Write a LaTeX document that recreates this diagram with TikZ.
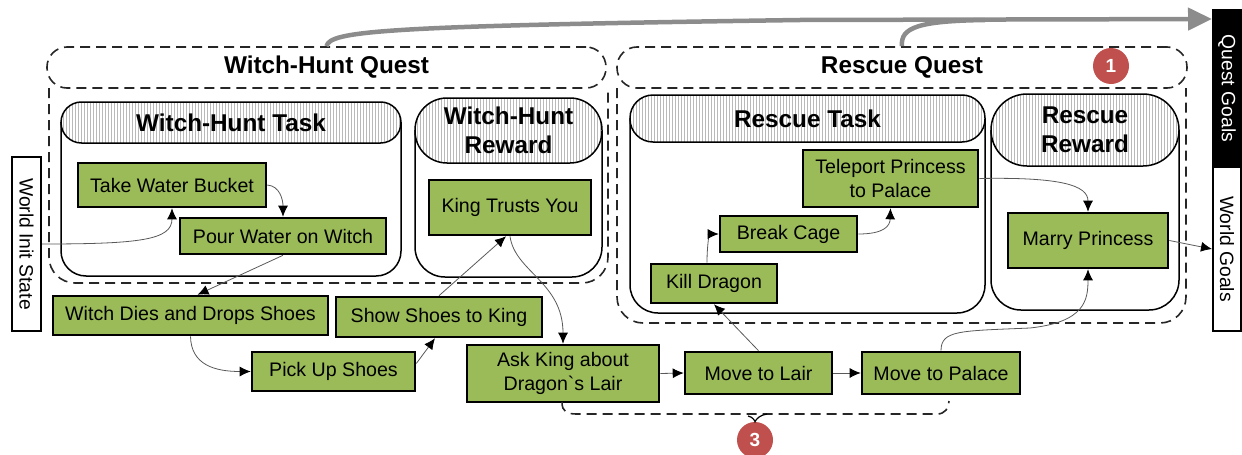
\documentclass[tikz,border=0pt]{standalone}
\usepackage{fontspec}
\setmainfont{Liberation Sans}
\newfontfamily\plainsans{Liberation Sans}
\usepackage{graphicx}
\usetikzlibrary{arrows.meta,patterns,calc}
\definecolor{nodegreen}{HTML}{9BBB59}
\definecolor{markred}{HTML}{C0504D}
\definecolor{flowgray}{HTML}{8C8C8C}
\begin{document}
\begin{tikzpicture}[x=1pt,y=-1pt,
  gbox/.style={draw=black, line width=2.6pt, fill=nodegreen, font=\fontsize{19.6}{23.5}\selectfont, align=center, inner sep=0pt},
  qdash/.style={draw=black!85, line width=1.6pt, dash pattern=on 10pt off 6pt},
  qhead/.style={qdash, rounded corners=20pt, inner sep=0pt, font=\fontsize{24.3}{28}\selectfont\bfseries},
  cbody/.style={draw=black, line width=1.5pt},
  chead/.style={draw=black, line width=1.5pt, preaction={fill=white}, pattern=vertical lines, pattern color=gray!55, inner sep=0pt, align=center, font=\fontsize{24.3}{29}\selectfont\bfseries},
  link/.style={draw=black!65, line width=0.8pt, -{Latex[length=11pt,width=10pt,color=black]}},
  bigflow/.style={draw=flowgray, line width=4.5pt},
  sidebox/.style={draw=black, line width=2pt, inner sep=0pt, font=\fontsize{19.3}{23}\selectfont},
  marker/.style={circle, fill=markred, text=white, minimum size=36pt, inner sep=0pt, font=\fontsize{19}{23}\selectfont\bfseries}
]
\useasboundingbox (0,0) rectangle (1242,455);

% quest groups
\draw[qdash, rounded corners=26pt] (49,88) -- (49,283) -- (608,283) -- (608,88);
\node[qhead, minimum width=559pt, minimum height=41pt] (whq) at (326.5,67.5) {Witch-Hunt Quest};
\draw[qdash, rounded corners=26pt] (617,88) -- (617,323) -- (1186,323) -- (1186,88);
\node[qhead, minimum width=570pt, minimum height=41pt] (rq) at (902,67.5) {Rescue Quest};

% containers
\draw[cbody, rounded corners=25pt] (61,122) -- (61,276) -- (401,276) -- (401,122);
\node[chead, rounded corners=20.5pt, minimum width=340pt, minimum height=41pt] (wht) at (231,122.5) {Witch-Hunt Task};
\draw[cbody, rounded corners=30pt] (415,130) -- (415,277) -- (602,277) -- (602,130);
\node[chead, rounded corners=32pt, minimum width=187pt, minimum height=65pt] (whr) at (508.5,130.5) {Witch-Hunt\\Reward};
\draw[cbody, rounded corners=28pt] (630,118) -- (630,313) -- (985,313) -- (985,118);
\node[chead, rounded corners=23pt, minimum width=355pt, minimum height=47pt] (rt) at (807.5,118.5) {Rescue Task};
\draw[cbody, rounded corners=30pt] (991,130) -- (991,310) -- (1179,310) -- (1179,130);
\node[chead, rounded corners=36pt, minimum width=188pt, minimum height=72pt] (rr) at (1085,130) {Rescue\\Reward};

% side boxes
\node[sidebox, fill=white, minimum width=29pt, minimum height=174pt] (wis) at (26.5,244) {\rotatebox{-90}{World Init State}};
\node[sidebox, fill=black, text=white, minimum width=28pt, minimum height=157pt] (qg) at (1227,88.5) {\rotatebox{-90}{Quest Goals}};
\node[sidebox, fill=white, minimum width=28pt, minimum height=164pt] (wg) at (1227,249) {\rotatebox{-90}{World Goals}};
\coordinate (qgin) at ([yshift=-10pt]qg.north west);

% green nodes
\node[gbox, minimum width=188pt, minimum height=44pt] (twb) at (172,185) {Take Water Bucket};
\node[gbox, minimum width=206pt, minimum height=36pt] (pww) at (283,236) {Pour Water on Witch};
\node[gbox, minimum width=162pt, minimum height=55pt] (kty) at (510,207.5) {King Trusts You};
\node[gbox, minimum width=275pt, minimum height=39pt] (wdd) at (190.5,315.5) {Witch Dies and Drops Shoes};
\node[gbox, minimum width=206pt, minimum height=40pt] (sst) at (439,317) {Show Shoes to King};
\node[gbox, minimum width=163pt, minimum height=39pt] (pus) at (333.5,371.5) {Pick Up Shoes};
\node[gbox, minimum width=192pt, minimum height=57pt] (ask) at (563,373.5) {Ask King about\\Dragon{\plainsans\symbol{96}}s Lair};
\node[gbox, minimum width=147pt, minimum height=42pt] (mtl) at (758.5,373) {Move to Lair};
\node[gbox, minimum width=158pt, minimum height=42pt] (mtp) at (941,373) {Move to Palace};
\node[gbox, minimum width=126pt, minimum height=39pt] (kd) at (714,283.5) {Kill Dragon};
\node[gbox, minimum width=137pt, minimum height=36pt] (bc) at (788.5,234) {Break Cage};
\node[gbox, minimum width=175pt, minimum height=57pt] (tp) at (890.5,178.5) {Teleport Princess\\to Palace};
\node[gbox, minimum width=160pt, minimum height=55pt] (mp) at (1088,240.5) {Marry Princess};

% markers
\node[marker] (m1) at (1111,66) {1};
\node[marker] (m3) at (755,440) {3};

% bottom dashed bracket
\draw[qdash] (562,402) .. controls (562,412) and (567,414) .. (577,414) -- (937,414) .. controls (945,414) and (949,408) .. (949,401);
\draw[black, line width=1.2pt] (748,416) .. controls (753,417) and (755,421) .. (m3.north) .. controls (756,419) and (760,415) .. (767,414);

% big gray flows
\draw[bigflow, -{Triangle[length=24pt,width=22pt]}] (whq.north) .. controls (330,31) and (380,26) .. (800,20) -- (qgin);
\draw[bigflow] (rq.north) .. controls (900,27) and (920,21) .. (985,20);

% links
\draw[link] (wis.east) .. controls (140,244) and (172,240) .. (twb.south);
\draw[link] (twb.east) .. controls (280,186) and (283,200) .. (pww.north);
\draw[link] (pww.south) -- ([xshift=7pt]wdd.north);
\draw[link] (wdd.south) .. controls (191,365) and (215,371.5) .. (pus.west);
\draw[link] ([yshift=8pt]pus.east) -- ([xshift=-4pt]sst.south);
\draw[link] (sst.north) -- ([xshift=-4pt]kty.south);
\draw[link] (kty.south) .. controls (515,272) and (563,282) .. (ask.north);
\draw[link] (ask.east) -- (mtl.west);
\draw[link] (mtl.north) -- (kd.south);
\draw[link] (mtl.east) -- (mtp.west);
\draw[link] ([xshift=-7pt]kd.north) .. controls (707,242) and (710,234) .. (bc.west);
\draw[link] (bc.east) .. controls (884,234) and (890,226) .. (tp.south);
\draw[link] (tp.east) .. controls (1060,177) and (1088,185) .. (mp.north);
\draw[link] (mtp.north) .. controls (941,330) and (960,331) .. (1030,328) .. controls (1085,322) and (1088,300) .. (mp.south);
\draw[link] (mp.east) -- (wg.west);
\end{tikzpicture}
\end{document}
